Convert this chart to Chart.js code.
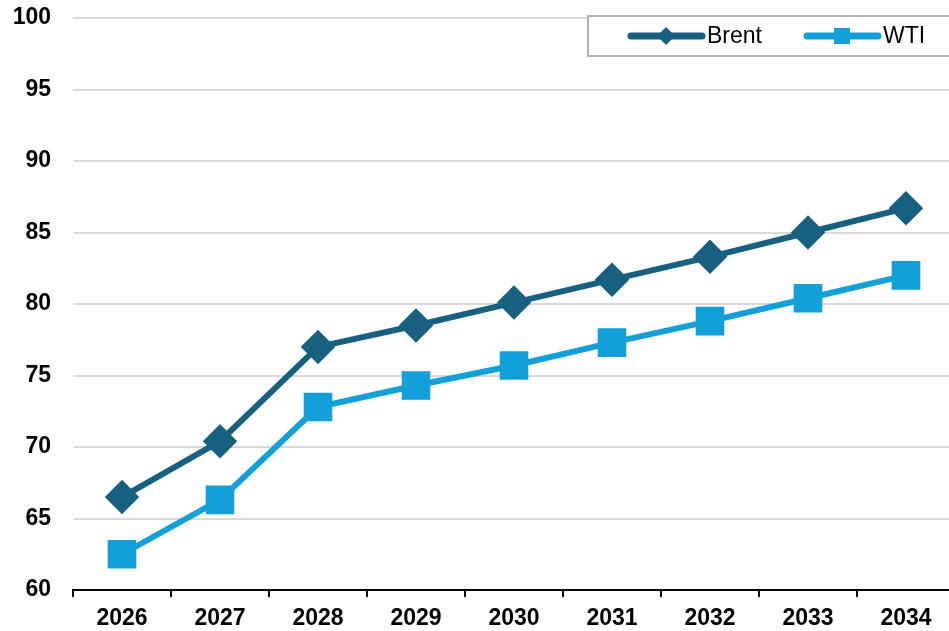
<!DOCTYPE html>
<html>
<head>
<meta charset="utf-8">
<script src="https://cdn.jsdelivr.net/npm/chart.js@4"></script>
<style>
  html, body { margin: 0; padding: 0; background: #fff; width: 949px; height: 631px; overflow: hidden; }
  /* the source plot runs a few pixels past the right edge */
  #wrap { width: 955px; height: 631px; }
</style>
</head>
<body>
<div id="wrap"><canvas id="chart"></canvas></div>
<script>
const years = ['2026', '2027', '2028', '2029', '2030', '2031', '2032', '2033', '2034'];
const brent = [66.5, 70.4, 77.0, 78.5, 80.1, 81.7, 83.3, 85.0, 86.7];
const wti = [62.5, 66.3, 72.8, 74.3, 75.7, 77.3, 78.8, 80.4, 82.0];
const yTicks = [60, 65, 70, 75, 80, 85, 90, 95, 100];

const FONT = '"Liberation Sans", Arial, sans-serif';

// legend drawn inside the plot, boxed, at top right
const boxLegend = {
  id: 'boxLegend',
  afterDraw(chart) {
    const ctx = chart.ctx;
    ctx.save();
    ctx.fillStyle = '#fff';
    ctx.fillRect(587, 15, 370, 42);
    ctx.strokeStyle = '#b0b0b0';
    ctx.lineWidth = 2;
    ctx.strokeRect(588, 16, 370, 40);
    const starts = [631, 807];
    chart.data.datasets.forEach((ds, i) => {
      const x0 = starts[i], y = 36;
      ctx.strokeStyle = ds.borderColor;
      ctx.lineWidth = 7;
      ctx.lineCap = 'round';
      ctx.beginPath();
      ctx.moveTo(x0, y);
      ctx.lineTo(x0 + 71, y);
      ctx.stroke();
      ctx.fillStyle = ds.borderColor;
      ctx.beginPath();
      if (ds.pointStyle === 'rectRot') {
        ctx.moveTo(x0 + 35, y - 9);
        ctx.lineTo(x0 + 44, y);
        ctx.lineTo(x0 + 35, y + 9);
        ctx.lineTo(x0 + 26, y);
      } else {
        ctx.rect(x0 + 27, y - 8, 16, 16);
      }
      ctx.fill();
      ctx.fillStyle = '#000';
      ctx.font = '23px ' + FONT;
      ctx.textAlign = 'left';
      ctx.textBaseline = 'middle';
      ctx.fillText(ds.label, x0 + 76, y + 1);
    });
    ctx.restore();
  }
};

new Chart(document.getElementById('chart'), {
  type: 'line',
  data: {
    labels: years,
    datasets: [
      {
        label: 'Brent',
        data: brent,
        borderColor: '#17607f',
        backgroundColor: '#17607f',
        borderWidth: 6,
        pointStyle: 'rectRot',
        pointRadius: 13,
        pointHoverRadius: 13,
        tension: 0
      },
      {
        label: 'WTI',
        data: wti,
        borderColor: '#139fd8',
        backgroundColor: '#139fd8',
        borderWidth: 6,
        pointStyle: 'rect',
        pointRadius: 16,
        pointHoverRadius: 16,
        tension: 0
      }
    ]
  },
  options: {
    responsive: true,
    maintainAspectRatio: false,
    animation: false,
    layout: { autoPadding: false, padding: { top: 18, right: 0, left: 0, bottom: 0 } },
    plugins: {
      legend: { display: false },
      tooltip: { enabled: false }
    },
    scales: {
      x: {
        offset: true,
        grid: {
          offset: true,
          drawOnChartArea: false,
          drawTicks: true,
          tickLength: 7,
          color: '#000',
          lineWidth: 2
        },
        border: { color: '#000', width: 2 },
        ticks: {
          color: '#000',
          padding: 8,
          font: { family: FONT, size: 23, weight: 'bold' }
        },
        afterFit(scale) {
          scale.height = 41;
          scale.paddingLeft = 0;
          scale.paddingRight = 0;
        }
      },
      y: {
        min: 60,
        max: 100,
        afterBuildTicks(scale) { scale.ticks = yTicks.map(v => ({ value: v })); },
        grid: { color: '#d9d9d9', lineWidth: 2, drawTicks: false },
        border: { display: false },
        ticks: {
          color: '#000',
          padding: 22,
          font: { family: FONT, size: 23, weight: 'bold' }
        },
        afterFit(scale) {
          scale.width = 73;
          scale.paddingTop = 0;
          scale.paddingBottom = 0;
        }
      }
    }
  },
  plugins: [boxLegend]
});
</script>
</body>
</html>
